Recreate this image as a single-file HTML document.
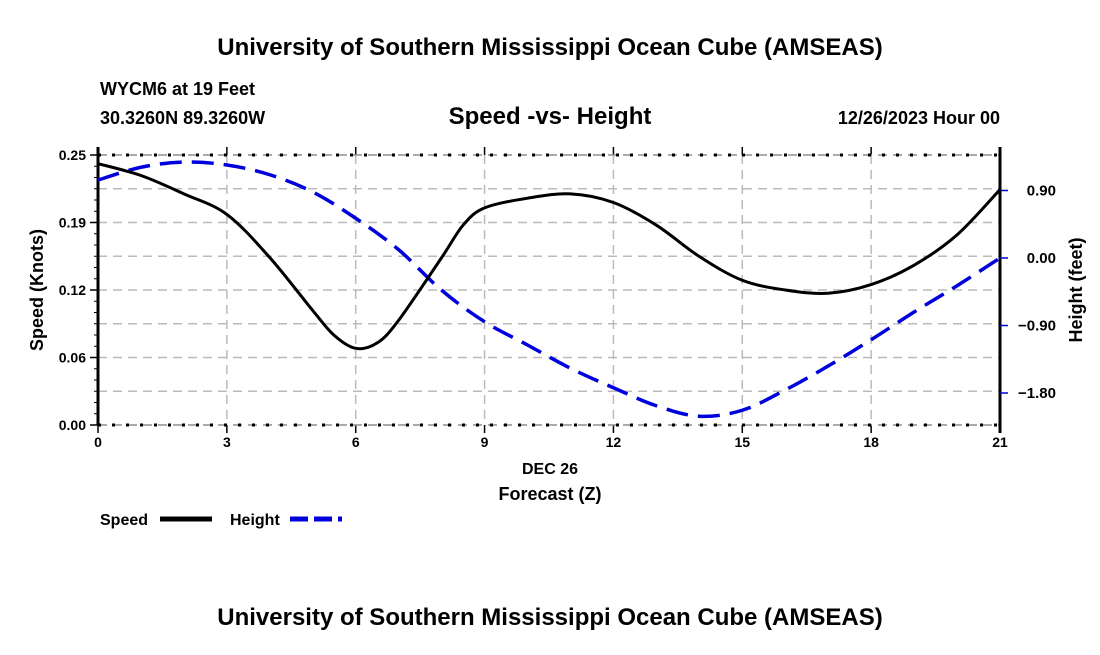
<!DOCTYPE html>
<html><head><meta charset="utf-8"><style>
body{margin:0;background:#fff;}
svg text{font-family:"Liberation Sans",sans-serif;font-weight:bold;fill:#000;}
</style></head><body>
<svg width="1100" height="650" viewBox="0 0 1100 650">
<text x="550" y="55" text-anchor="middle" font-size="24">University of Southern Mississippi Ocean Cube (AMSEAS)</text>
<text x="100" y="95" font-size="18">WYCM6 at 19 Feet</text>
<text x="100" y="124" font-size="18">30.3260N  89.3260W</text>
<text x="550" y="124" text-anchor="middle" font-size="24">Speed -vs- Height</text>
<text x="1000" y="124" text-anchor="end" font-size="18">12/26/2023 Hour 00</text>
<g id="grid"></g>
<g id="axes"></g>
<g id="series"></g>
<text x="550" y="474" text-anchor="middle" font-size="16">DEC 26</text>
<text x="550" y="500" text-anchor="middle" font-size="18">Forecast (Z)</text>
<text transform="translate(43,290) rotate(-90)" text-anchor="middle" font-size="18">Speed (Knots)</text>
<text transform="translate(1082,290) rotate(-90)" text-anchor="middle" font-size="18">Height (feet)</text>
<g><text x="100" y="525" font-size="16">Speed</text><line x1="160" y1="519" x2="212" y2="519" stroke="#000" stroke-width="5"/></g>
<g><text x="230" y="525" font-size="16">Height</text><line x1="290" y1="519" x2="342" y2="519" stroke="#0000dd" stroke-width="5" stroke-dasharray="18,6"/></g>
<text x="550" y="625" text-anchor="middle" font-size="24">University of Southern Mississippi Ocean Cube (AMSEAS)</text>
</svg>
<script>
const hours=[0,1,2,3,4,5,5.5,6,6.5,7,8,8.5,9,10,11,12,13,14,15,16,17,18,19,20,21];
const speed=[0.242,0.231,0.214,0.195,0.155,0.106,0.083,0.071,0.076,0.097,0.155,0.185,0.201,0.210,0.214,0.206,0.185,0.156,0.134,0.125,0.122,0.130,0.148,0.176,0.218];
const hHours=[0,1,2,3,4,5,6,7,8,9,10,11,12,13,14,15,16,17,18,19,20,21];
const height=[1.04,1.21,1.28,1.24,1.11,0.88,0.53,0.11,-0.43,-0.85,-1.16,-1.47,-1.73,-1.97,-2.11,-2.03,-1.76,-1.44,-1.09,-0.72,-0.37,0.0];
const xTicks=[0,3,6,9,12,15,18,21];
const yTicks=[0,0.0625,0.125,0.1875,0.25];
const yTickLabels=["0.00","0.06","0.12","0.19","0.25"];
const y2Ticks=[0.9,0,-0.9,-1.8];
const y2TickLabels=["0.90","0.00","\u22120.90","\u22121.80"];
const L=98,R=1000,T=155,B=425;
const x=h=>L+h*(R-L)/21;
const y=v=>B-v*(B-T)/0.25;
const y2=v=>258-v*75;
const NS="http://www.w3.org/2000/svg";
function el(p,t,a){const e=document.createElementNS(NS,t);for(const k in a)e.setAttribute(k,a[k]);p.appendChild(e);return e;}
const grid=document.getElementById('grid'),axes=document.getElementById('axes'),series=document.getElementById('series');
yTicks.forEach((v,i)=>{
 const g=el(grid,'line',{x1:L,x2:R,y1:y(v),y2:y(v),stroke:'#bbb','stroke-width':1.5,'stroke-dasharray':'9,6'});
 
 
 if(i<yTicks.length-1){const m=el(grid,'line',{x1:L,x2:R,y1:y(v+0.03125),y2:y(v+0.03125),stroke:'#bbb','stroke-width':1.5,'stroke-dasharray':'9,6'});
 
 }
 el(axes,'line',{x1:L-8,x2:L,y1:y(v),y2:y(v),stroke:'#000','stroke-width':1.5});
 const t=el(axes,'text',{x:L-12,y:y(v)+5,'text-anchor':'end','font-size':14});t.textContent=yTickLabels[i];
 
 
});
for(let k=0;k<=24;k++){const yy=B-k*(B-T)/24;el(axes,'line',{x1:L-4,x2:L,y1:yy,y2:yy,stroke:'#000','stroke-width':1});}
xTicks.forEach(h=>{
 if(h>0&&h<21){const g=el(grid,'line',{x1:x(h),x2:x(h),y1:T,y2:B,stroke:'#bbb','stroke-width':1.5,'stroke-dasharray':'9,6'});
 
 }
 el(axes,'line',{x1:x(h),x2:x(h),y1:T-8,y2:T,stroke:'#000','stroke-width':1.5});
 el(axes,'line',{x1:x(h),x2:x(h),y1:B,y2:B+8,stroke:'#000','stroke-width':1.5});
 const t=el(axes,'text',{x:x(h),y:B+22,'text-anchor':'middle','font-size':14});t.textContent=h;
 
 
});
el(axes,'line',{x1:L,x2:R,y1:T,y2:T,stroke:'#999','stroke-width':1.5,'stroke-dasharray':'9,6'});
el(axes,'line',{x1:L,x2:R,y1:B,y2:B,stroke:'#999','stroke-width':1.5,'stroke-dasharray':'9,6'});
el(axes,'line',{x1:L,x2:R,y1:T,y2:T,stroke:'#000','stroke-width':3,'stroke-dasharray':'3,11'});
el(axes,'line',{x1:L,x2:R,y1:B,y2:B,stroke:'#000','stroke-width':3,'stroke-dasharray':'3,11'});
el(axes,'line',{x1:L,x2:L,y1:T-8,y2:B,stroke:'#000','stroke-width':3});
el(axes,'line',{x1:R,x2:R,y1:T-8,y2:B+8,stroke:'#000','stroke-width':3});
y2Ticks.forEach((v,i)=>{
 el(axes,'line',{x1:R,x2:R+8,y1:y2(v),y2:y2(v),stroke:'#0000cc','stroke-width':1.5});
 const t=el(axes,'text',{x:1056,y:y2(v)+5,'text-anchor':'end','font-size':15});t.textContent=y2TickLabels[i];
 
 
});
function smooth(pts){let d=`M${pts[0][0]},${pts[0][1]}`;for(let i=0;i<pts.length-1;i++){const p0=pts[i-1]||pts[i],p1=pts[i],p2=pts[i+1],p3=pts[i+2]||p2;d+=` C${p1[0]+(p2[0]-p0[0])/6},${p1[1]+(p2[1]-p0[1])/6} ${p2[0]-(p3[0]-p1[0])/6},${p2[1]-(p3[1]-p1[1])/6} ${p2[0]},${p2[1]}`;}return d;}
const hp=el(series,'path',{d:smooth(hHours.map((h,i)=>[x(h),y2(height[i])])),fill:'none',stroke:'#0000dd','stroke-width':3.5,'stroke-dasharray':'22,10'});


const sp=el(series,'path',{d:smooth(hours.map((h,i)=>[x(h),y(speed[i])])),fill:'none',stroke:'#000','stroke-width':3});


</script>
</body></html>
